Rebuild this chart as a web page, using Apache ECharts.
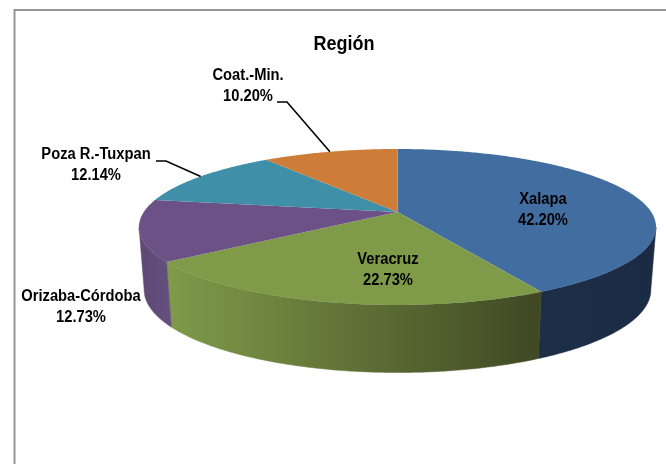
<!DOCTYPE html>
<html>
<head>
<meta charset="utf-8">
<style>html,body{margin:0;padding:0;background:#fff}#c{width:666px;height:464px}</style>
<script src="https://cdn.jsdelivr.net/npm/echarts@6/dist/echarts.min.js"></script>
</head>
<body>
<div id="c"></div>
<script>
const categories = ['Xalapa', 'Veracruz', 'Orizaba-Córdoba', 'Poza R.-Tuxpan', 'Coat.-Min.'];
const shares = [42.20, 22.73, 12.73, 12.14, 10.20];
const chartTitle = 'Región';

const topColors = ['#426da0', '#7f9b49', '#6b5186', '#3f8fa8', '#ce7d38'];
const sideStops = [
  ['#1d2e47', '#1a2b43'],
  ['#7f9b49', '#3f4823'],
  ['#5e4875', '#66507f'],
  ['#2f6f85', '#2f6f85'],
  ['#a5622b', '#a5622b']
];
// label centre (px) and the fixed start of a leader that runs on to the slice rim
const labelPlacement = [
  { x: 543, y: 210 },
  { x: 388, y: 270 },
  { x: 81, y: 307 },
  { x: 96, y: 165, leader: [[156, 161], [166, 161]] },
  { x: 248, y: 86, leader: [[277, 102], [287, 102]] }
];

const pie = { cx: 397.5, cy: 212, rx: 253.7, ry: 75.1, persp: 0.192, depth: 62, baseX: 0.98, baseY: 1.06 };
const fontStack = '"Liberation Sans", Arial, sans-serif';

const sum = shares.reduce((a, b) => a + b, 0);
let running = 0;
const startValues = shares.map(v => { const s = running; running += v; return s; });
const toAngle = v => v / sum * Math.PI * 2;

function rim(theta, base) {
  const s = Math.sin(theta), c = Math.cos(theta), w = 1 + pie.persp * c;
  const dx = pie.rx * s / w, dy = -pie.ry * c / w;
  if (base) return [pie.cx + dx * pie.baseX, pie.cy + pie.depth + dy * pie.baseY];
  return [pie.cx + dx, pie.cy + dy];
}
function arc(a0, a1, base) {
  const n = Math.max(2, Math.ceil(Math.abs(a1 - a0) / 0.01)), out = [];
  for (let i = 0; i <= n; i++) out.push(rim(a0 + (a1 - a0) * i / n, base));
  return out;
}
// the side wall is visible between the two points where the rim turns back
const sideFrom = Math.acos(-pie.persp), sideTo = Math.PI * 2 - sideFrom;

const seriesData = shares.map((v, i) => ({ name: categories[i], value: [startValues[i], v, i] }));

function renderSide(params, api) {
  const i = api.value(2);
  const a0 = Math.max(toAngle(api.value(0)), sideFrom);
  const a1 = Math.min(toAngle(api.value(0) + api.value(1)), sideTo);
  if (a1 <= a0) return { type: 'group', children: [] };
  const points = arc(a0, a1, false).concat(arc(a1, a0, true));
  const xs = points.map(p => p[0]);
  const fill = new echarts.graphic.LinearGradient(Math.min(...xs), 0, Math.max(...xs), 0, [
    { offset: 0, color: sideStops[i][0] }, { offset: 1, color: sideStops[i][1] }
  ], true);
  return { type: 'polygon', shape: { points }, style: { fill, stroke: fill, lineWidth: 0.5 } };
}
function renderTop(params, api) {
  const i = api.value(2);
  const a0 = toAngle(api.value(0)), a1 = toAngle(api.value(0) + api.value(1));
  const points = [[pie.cx, pie.cy]].concat(arc(a0, a1, false));
  const place = labelPlacement[i];
  const children = [{ type: 'polygon', shape: { points }, style: { fill: topColors[i] } }];
  if (place.leader) {
    const end = rim((a0 + a1) / 2, false);
    children.push({ type: 'polyline', z2: 5, shape: { points: place.leader.concat([end]) },
      style: { fill: 'none', stroke: '#000', lineWidth: 1.6 } });
  }
  children.push({ type: 'text', z2: 10, x: place.x, y: place.y, scaleX: 0.92, style: {
    text: categories[i] + '\n' + api.value(1).toFixed(2) + '%',
    align: 'center', verticalAlign: 'middle', lineHeight: 21,
    font: 'bold 16px ' + fontStack, fill: '#000'
  } });
  return { type: 'group', children };
}

const chart = echarts.init(document.getElementById('c'), null, { renderer: 'canvas', width: 666, height: 464 });
chart.setOption({
  animation: false,
  backgroundColor: '#ffffff',
  graphic: [{
    type: 'polyline', silent: true,
    shape: { points: [[14.5, 470], [14.5, 10], [672, 10]] },
    style: { fill: 'none', stroke: '#959595', lineWidth: 2 }
  }, {
    type: 'text', silent: true, x: 344, y: 44, scaleX: 0.9,
    style: { text: chartTitle, align: 'center', verticalAlign: 'middle',
      font: 'bold 20px ' + fontStack, fill: '#000' }
  }],
  series: [
    { type: 'custom', coordinateSystem: 'none', renderItem: renderSide, data: seriesData, z: 2, silent: true },
    { type: 'custom', coordinateSystem: 'none', renderItem: renderTop, data: seriesData, z: 3, silent: true }
  ]
});
</script>
</body>
</html>
